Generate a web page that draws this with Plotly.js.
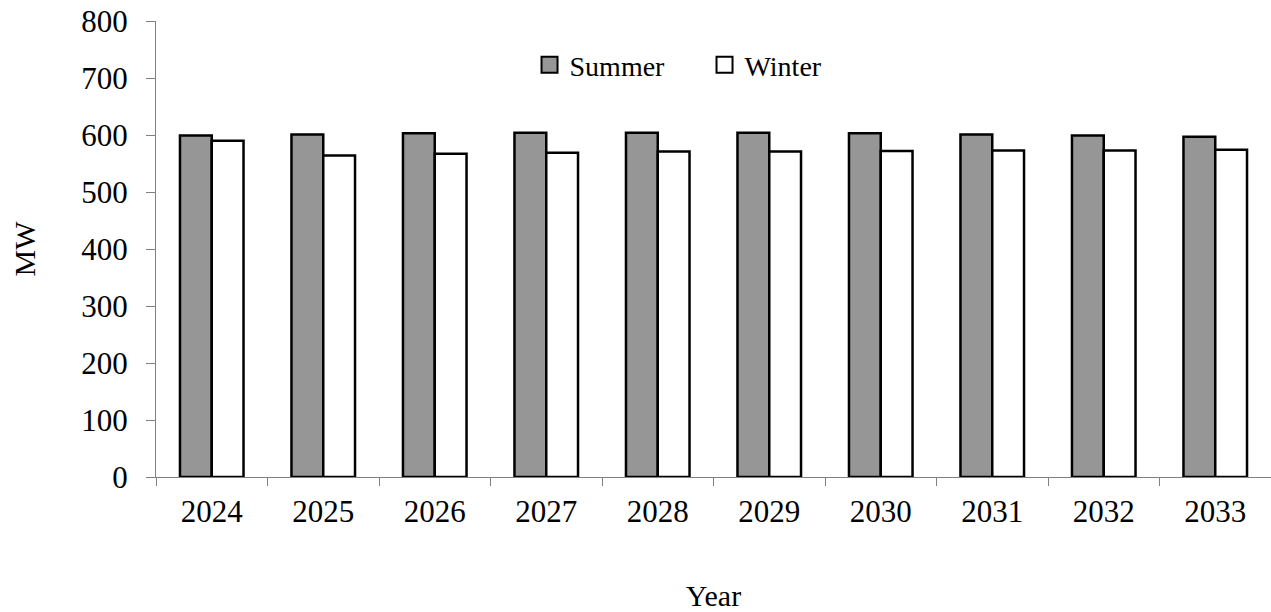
<!DOCTYPE html>
<html>
<head>
<meta charset="utf-8">
<script src="https://cdn.plot.ly/plotly-3.0.1.min.js"></script>
<style>
  html, body { margin: 0; padding: 0; background: #ffffff; }
  #chart { width: 1271px; height: 612px; }
</style>
</head>
<body>
<div id="chart"></div>
<script>
// Seasonal peak capability by year (MW)
const years = ['2024', '2025', '2026', '2027', '2028', '2029', '2030', '2031', '2032', '2033'];
const summerMW = [599, 601, 603, 604, 604, 604, 603, 601, 599, 597];
const winterMW = [590, 564, 567, 569, 571, 571, 572, 573, 573, 574];
const yTicks = [0, 100, 200, 300, 400, 500, 600, 700, 800];
const seriesNames = ['Summer', 'Winter'];
const seriesFill = ['#969696', '#ffffff'];

const serif = 'Liberation Serif, Times New Roman, serif';

// Bars
const bars = [summerMW, winterMW].map((vals, i) => ({
  type: 'bar',
  name: seriesNames[i],
  x: years,
  y: vals,
  showlegend: false,
  marker: { color: seriesFill[i], line: { color: '#000000', width: 2.5 } },
  hoverinfo: 'x+y+name'
}));

// Legend keys: larger square swatches than the default bar glyph
const keys = seriesNames.map((name, i) => ({
  type: 'scatter',
  mode: 'markers',
  name: name,
  x: [null],
  y: [null],
  showlegend: true,
  marker: { symbol: 'square', size: 16, color: seriesFill[i], line: { color: '#000000', width: 2 } },
  hoverinfo: 'skip'
}));

const layout = {
  width: 1271,
  height: 612,
  margin: { l: 156, r: 0, t: 21, b: 135 },
  paper_bgcolor: '#ffffff',
  plot_bgcolor: '#ffffff',
  barmode: 'group',
  bargap: 0.43,
  bargroupgap: 0,
  font: { family: serif, size: 28, color: '#000000' },
  showlegend: true,
  legend: {
    orientation: 'h',
    x: 0.335,
    xanchor: 'left',
    y: 0.9035,
    yanchor: 'middle',
    bgcolor: 'rgba(0,0,0,0)',
    font: { family: serif, size: 28, color: '#000000' },
    entrywidth: 130,
    entrywidthmode: 'pixels',
    itemsizing: 'trace'
  },
  xaxis: {
    type: 'category',
    showgrid: false,
    zeroline: false,
    showline: true,
    linecolor: '#808080',
    linewidth: 1,
    ticks: 'outside',
    tickson: 'boundaries',
    ticklen: 8,
    tickcolor: '#808080',
    ticklabelstandoff: 7,
    tickfont: { family: serif, size: 31, color: '#000000' },
    title: { text: 'Year', font: { family: serif, size: 30, color: '#000000' }, standoff: 58 }
  },
  yaxis: {
    range: [0, 800],
    tickvals: yTicks,
    ticktext: yTicks.map(String),
    showgrid: false,
    zeroline: false,
    showline: true,
    linecolor: '#808080',
    linewidth: 1,
    ticks: 'outside',
    ticklen: 9,
    tickcolor: '#808080',
    ticklabelstandoff: 12,
    tickfont: { family: serif, size: 31, color: '#000000' },
    title: { text: 'MW', font: { family: serif, size: 30, color: '#000000' }, standoff: 36 }
  }
};

Plotly.newPlot('chart', bars.concat(keys), layout, { displayModeBar: false, staticPlot: true });
</script>
</body>
</html>
